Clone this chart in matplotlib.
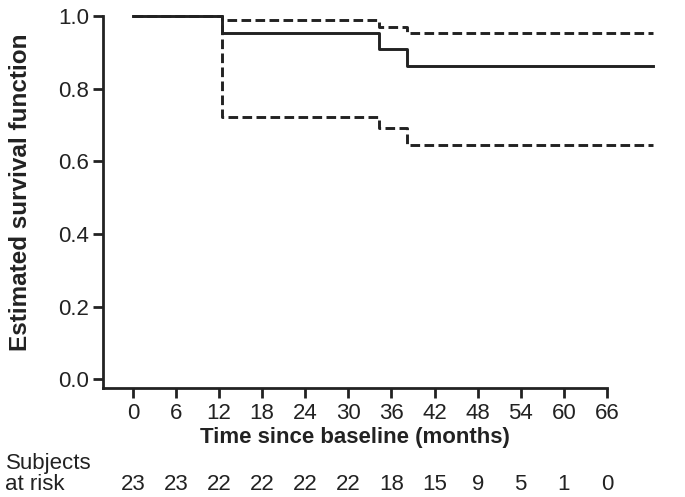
import numpy as np
import matplotlib.pyplot as plt

plt.rcParams['font.family'] = ['Liberation Sans', 'DejaVu Sans']

# step times (months) and estimated survival with confidence limits
times = [0, 12.4, 34.3, 38.2, 72.4]
surv = [1.0, 0.952, 0.910, 0.862, 0.862]
upper = [1.0, 0.988, 0.970, 0.952, 0.952]
lower = [1.0, 0.722, 0.692, 0.644, 0.644]

ticks = [0, 6, 12, 18, 24, 30, 36, 42, 48, 54, 60, 66]
at_risk = [23, 23, 22, 22, 22, 22, 18, 15, 9, 5, 1, 0]

fig = plt.figure(figsize=(6.85, 4.97), dpi=100)
ax = fig.add_axes([0.150, 0.219, 0.736, 0.749])

col = '#222222'
ax.step(times, surv, where='post', color=col, lw=2.1, clip_on=False)
ax.step(times, upper, where='post', color=col, lw=2.1, ls=(0, (3.3, 1.5)), clip_on=False)
ax.step(times, lower, where='post', color=col, lw=2.1, ls=(0, (3.3, 1.5)), clip_on=False)

ax.set_xlim(-4.2, 66)
ax.set_ylim(-0.024, 1.0)
ax.set_xticks(ticks)
ax.set_yticks([0.0, 0.2, 0.4, 0.6, 0.8, 1.0])
ax.set_yticklabels(['0.0', '0.2', '0.4', '0.6', '0.8', '1.0'])
ax.spines['top'].set_visible(False)
ax.spines['right'].set_visible(False)
for s in ['left', 'bottom']:
    ax.spines[s].set_linewidth(2)
    ax.spines[s].set_color(col)
ax.tick_params(axis='both', direction='out', length=7, width=2, color=col,
               labelsize=16, labelcolor=col, pad=3)
ax.tick_params(axis='x', pad=4)

ax.set_xlabel('Time since baseline (months)', fontsize=16, fontweight='bold', color=col, labelpad=2)
ax.set_ylabel('Estimated survival function', fontsize=17.5, fontweight='bold', color=col)
ax.yaxis.set_label_coords(-0.141, 0.527)

# numbers at risk row
for t, n in zip(ticks, at_risk):
    ax.annotate(str(n), xy=(t, 0), xycoords=('data', 'figure fraction'),
                xytext=(0, 9), textcoords='offset points',
                ha='center', va='center', fontsize=16, color=col)
fig.text(0.008, 0.046, 'Subjects\nat risk', fontsize=16, color=col, ha='left', va='center',
         linespacing=1.02)

fig.savefig('out.png', dpi=100)
